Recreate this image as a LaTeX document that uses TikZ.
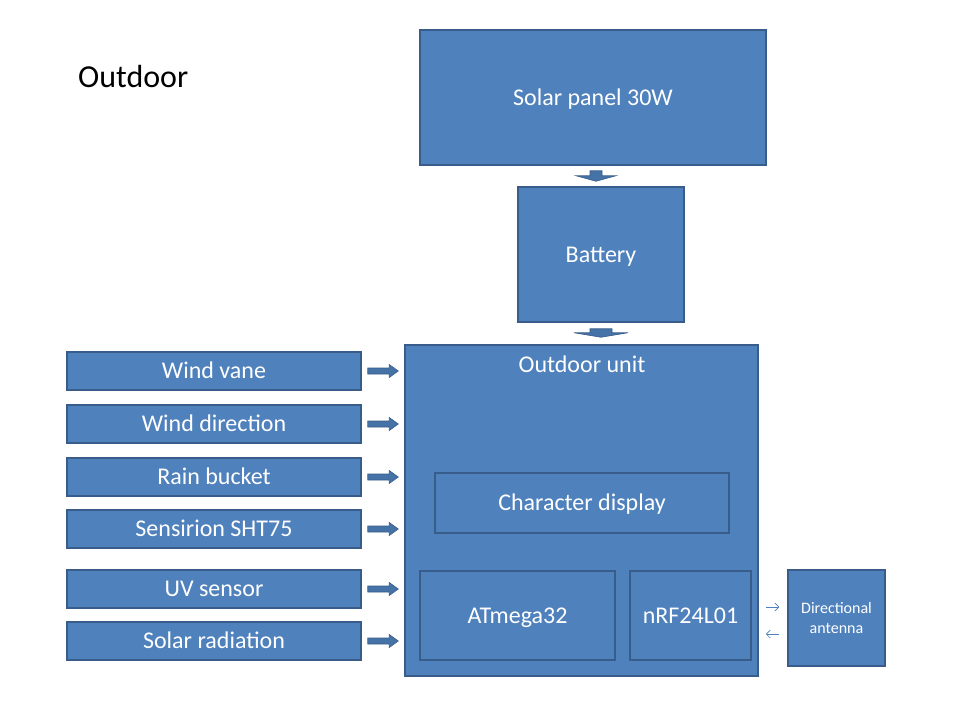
\documentclass[tikz,border=0pt]{standalone}
\usepackage{fontspec}
\setmainfont{Carlito}
\usetikzlibrary{calc,arrows.meta}
\definecolor{boxfill}{HTML}{4F81BD}
\definecolor{boxline}{HTML}{385D8A}
\definecolor{arrfill}{HTML}{4572A7}
\tikzset{
  box/.style={draw=boxline, fill=boxfill, line width=1.5pt, text=white, inner sep=0pt,
    font=\fontsize{24}{28}\selectfont, align=center, text height=15.5pt, text depth=0pt},
  sensor/.style={box, minimum width=294pt, minimum height=38pt},
  blockarr/.style={fill=arrfill, draw=boxline, line width=0.6pt},
  thinarr/.style={draw=boxfill, line width=0.7pt, -{Straight Barb[length=4pt,width=8pt]}},
}
\begin{document}
\begin{tikzpicture}[x=1pt,y=-1pt]
\useasboundingbox (0,0) rectangle (960,720);
\fill[white] (0,0) rectangle (960,720);

\node[anchor=base west, font=\fontsize{32}{38}\selectfont, inner sep=0pt] (title) at (78,87) {Outdoor};

\node[box, minimum width=346pt, minimum height=135pt] (solar) at (593,97.5) {Solar panel 30W};
\node[box, minimum width=166pt, minimum height=135pt] (battery) at (601,254.5) {Battery};
\node[box, minimum width=353pt, minimum height=331pt] (outdoor) at (581.5,510.5) {};
\node[text=white, font=\fontsize{24}{28}\selectfont, inner sep=0pt, text height=15.5pt, text depth=0pt] (outdoorlbl) at (582,365) {Outdoor unit};
\node[box, minimum width=294pt, minimum height=60pt] (chardisp) at (582,503) {Character display};
\node[box, minimum width=195pt, minimum height=89pt] (atmega) at (517.5,615.5) {ATmega32};
\node[box, minimum width=121pt, minimum height=89pt] (nrf) at (690.5,615.5) {nRF24L01};
\node[box, minimum width=97pt, minimum height=96pt, font=\fontsize{16}{20}\selectfont, text height={}, text depth={}] (antenna) at (836.5,618) {Directional\\antenna};

\node[sensor] (s1) at (214,371) {Wind vane};
\node[sensor] (s2) at (214,424) {Wind direction};
\node[sensor] (s3) at (214,477) {Rain bucket};
\node[sensor] (s4) at (214,529) {Sensirion SHT75};
\node[sensor] (s5) at (214,589) {UV sensor};
\node[sensor] (s6) at (214,641) {Solar radiation};

% right block arrows from sensors to outdoor unit
\foreach \s in {s1,s2,s3,s4,s5,s6}{
  \coordinate (a) at ($(\s.east)+(6,0)$);
  \coordinate (b) at ($(a -| outdoor.west)+(-6,0)$);
  \draw[blockarr] ($(a)+(0,-3)$) -- ($(b)+(-9,-3)$) -- ($(b)+(-9,-6.5)$) -- (b)
    -- ($(b)+(-9,6.5)$) -- ($(b)+(-9,3)$) -- ($(a)+(0,3)$) -- cycle;
}

% down block arrows
\coordinate (d1) at ($(solar.south)+(3,0)$);
\draw[blockarr] ($(d1)+(-6,5)$) -- ($(d1)+(6,5)$) -- ($(d1)+(6,10)$) -- ($(d1)+(20,10)$)
  -- ($(d1 |- battery.north)+(0,-5)$) -- ($(d1)+(-20,10)$) -- ($(d1)+(-6,10)$) -- cycle;
\coordinate (d2) at ($(battery.south)+(0,0)$);
\draw[blockarr] ($(d2)+(-11,6)$) -- ($(d2)+(11,6)$) -- ($(d2)+(11,10)$) -- ($(d2)+(27,10)$)
  -- ($(d2 |- outdoor.north)+(0,-7)$) -- ($(d2)+(-27,10)$) -- ($(d2)+(-11,10)$) -- cycle;

% radio link arrows
\coordinate (r1a) at ($(nrf.east)+(14,-8.5)$);
\coordinate (r1b) at ($(antenna.west)+(-8,-11)$);
\draw[thinarr] (r1a) -- (r1a -| r1b);
\coordinate (r2a) at ($(antenna.west)+(-8,16)$);
\coordinate (r2b) at ($(nrf.east)+(14,18.5)$);
\draw[thinarr] (r2a) -- (r2a -| r2b);
\end{tikzpicture}
\end{document}
